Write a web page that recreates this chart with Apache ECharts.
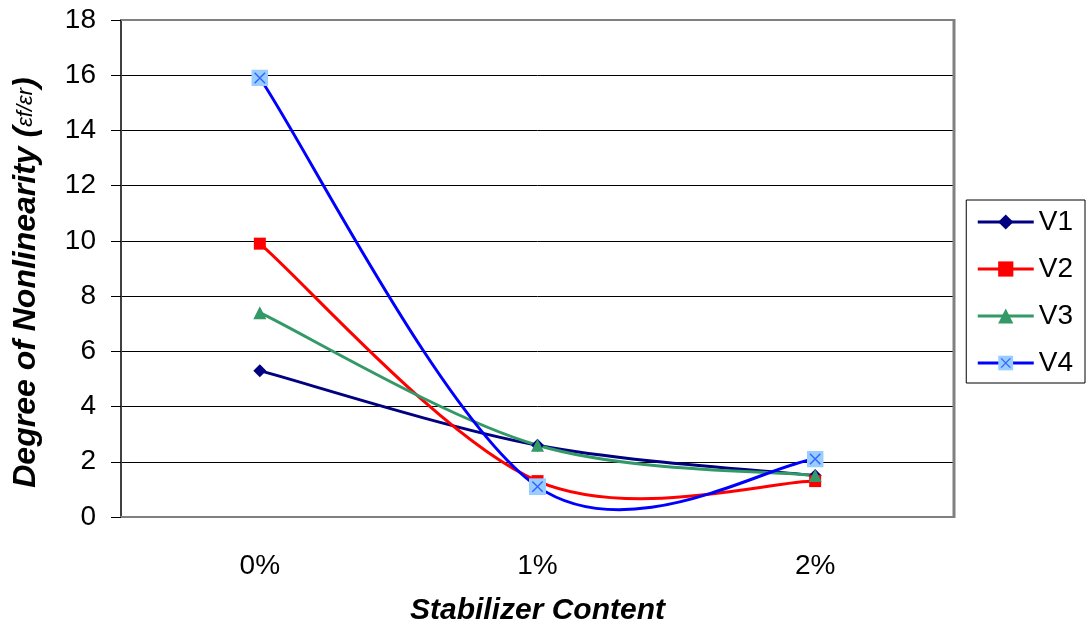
<!DOCTYPE html>
<html>
<head>
<meta charset="utf-8">
<script src="https://cdn.jsdelivr.net/npm/echarts@6/dist/echarts.min.js"></script>
<style>
  html, body { margin: 0; padding: 0; background: #fff; }
  #chart { width: 1087px; height: 633px; }
</style>
</head>
<body>
<div id="chart"></div>
<script>
// Stabilizer content levels and degree of nonlinearity per variant
const categories = ['0%', '1%', '2%'];
const v1 = [5.3, 2.6, 1.5];
const v2 = [9.9, 1.3, 1.3];
const v3 = [7.4, 2.6, 1.5];
const v4 = [15.9, 1.1, 2.1];
const yTicks = [0, 2, 4, 6, 8, 10, 12, 14, 16, 18];

const colors = { V1: '#000080', V2: '#ff0000', V3: '#339966', V4: '#0000ff' };

// Light-blue square with a blue cross, used for V4 points
const crossSvg = 'data:image/svg+xml;utf8,' + encodeURIComponent(
  '<svg xmlns="http://www.w3.org/2000/svg" width="18" height="18" viewBox="0 0 18 18">' +
  '<rect x="0" y="0" width="18" height="18" fill="#99ccff"/>' +
  '<path d="M3.5 3.5 L14.5 14.5 M14.5 3.5 L3.5 14.5" stroke="#3366ff" stroke-width="1.6"/>' +
  '</svg>');

const font = '"Liberation Sans", Arial, sans-serif';

// Smoothed curve through the points: cubic Bezier segments whose
// control points follow the neighbouring points (Catmull-Rom style).
function curveSeries(key, data) {
  return {
    id: key + '-curve',
    type: 'custom',
    data: data.map((v, i) => [i, v]),
    silent: true,
    z: 2,
    renderItem: function (params, api) {
      const i = params.dataIndexInside;
      const n = params.dataInsideLength;
      if (i >= n - 1) return null;
      const pt = k => api.coord([api.value(0, k), api.value(1, k)]);
      const p0 = pt(Math.max(i - 1, 0));
      const p1 = pt(i);
      const p2 = pt(i + 1);
      const p3 = pt(Math.min(i + 2, n - 1));
      return {
        type: 'bezierCurve',
        shape: {
          x1: p1[0], y1: p1[1],
          x2: p2[0], y2: p2[1],
          cpx1: p1[0] + (p2[0] - p0[0]) / 6,
          cpy1: p1[1] + (p2[1] - p0[1]) / 6,
          cpx2: p2[0] - (p3[0] - p1[0]) / 6,
          cpy2: p2[1] - (p3[1] - p1[1]) / 6
        },
        style: { stroke: colors[key], lineWidth: 3, fill: null }
      };
    }
  };
}

// Point markers (the line itself is drawn by the curve series)
function markerSeries(key, data, symbol, size) {
  return {
    name: key,
    type: 'line',
    data: data,
    symbol: symbol,
    symbolSize: size,
    showSymbol: true,
    lineStyle: { color: colors[key], width: 3, opacity: 0 },
    itemStyle: { color: colors[key] },
    emphasis: { disabled: true },
    z: 4
  };
}

const chart = echarts.init(document.getElementById('chart'), null, { renderer: 'canvas' });
chart.setOption({
  animation: false,
  grid: { left: 121, right: 133, top: 20, bottom: 116, outerBoundsMode: 'none', containLabel: false },
  legend: {
    orient: 'vertical',
    right: 2,
    top: 200,
    itemWidth: 56,
    itemHeight: 19,
    itemGap: 19,
    padding: [8, 12, 6, 10],
    borderColor: '#000',
    borderWidth: 1,
    textStyle: { fontFamily: font, fontSize: 28, lineHeight: 28, color: '#000' },
    data: ['V1', 'V2', 'V3', 'V4'].map(k => ({
      name: k,
      lineStyle: { color: colors[k], width: 3, opacity: 1 }
    }))
  },
  xAxis: {
    type: 'category',
    data: categories,
    boundaryGap: true,
    axisLine: { lineStyle: { color: '#808080', width: 2 } },
    axisTick: { show: false },
    axisLabel: { fontFamily: font, fontSize: 28, color: '#000', margin: 35 },
    name: 'Stabilizer Content',
    nameLocation: 'middle',
    nameGap: 79,
    nameTextStyle: { fontFamily: font, fontSize: 30, fontWeight: 'bold', fontStyle: 'italic', color: '#000' },
    splitLine: { show: false }
  },
  yAxis: {
    type: 'value',
    min: yTicks[0],
    max: yTicks[yTicks.length - 1],
    interval: yTicks[1] - yTicks[0],
    axisLine: { show: true, lineStyle: { color: '#404040', width: 2 } },
    axisTick: { show: true, length: 10, inside: false, lineStyle: { color: '#000', width: 1 } },
    axisLabel: { fontFamily: font, fontSize: 28, color: '#000', margin: 25 },
    splitLine: { show: true, lineStyle: { color: '#000', width: 1 } },
    name: '{a|Degree of Nonlinearity (}{b|εf/εr}{a|)}',
    nameLocation: 'middle',
    nameGap: 79,
    nameRotate: 90,
    nameTextStyle: {
      padding: [0, 28, 0, 0],
      rich: {
        a: { fontFamily: font, fontSize: 32, fontWeight: 'bold', fontStyle: 'italic', color: '#000' },
        b: { fontFamily: font, fontSize: 22, fontStyle: 'italic', color: '#000' }
      }
    }
  },
  graphic: [
    // gray frame on the top and right of the plot area
    { type: 'line', shape: { x1: 121, y1: 20, x2: 954, y2: 20 }, style: { stroke: '#808080', lineWidth: 2 }, z: 1 },
    { type: 'line', shape: { x1: 954, y1: 19, x2: 954, y2: 518 }, style: { stroke: '#808080', lineWidth: 3 }, z: 1 }
  ],
  series: [
    curveSeries('V1', v1),
    curveSeries('V2', v2),
    curveSeries('V3', v3),
    curveSeries('V4', v4),
    markerSeries('V1', v1, 'diamond', 13),
    markerSeries('V2', v2, 'rect', 12),
    markerSeries('V3', v3, 'triangle', 13),
    markerSeries('V4', v4, 'image://' + crossSvg, 17)
  ]
});
</script>
</body>
</html>
